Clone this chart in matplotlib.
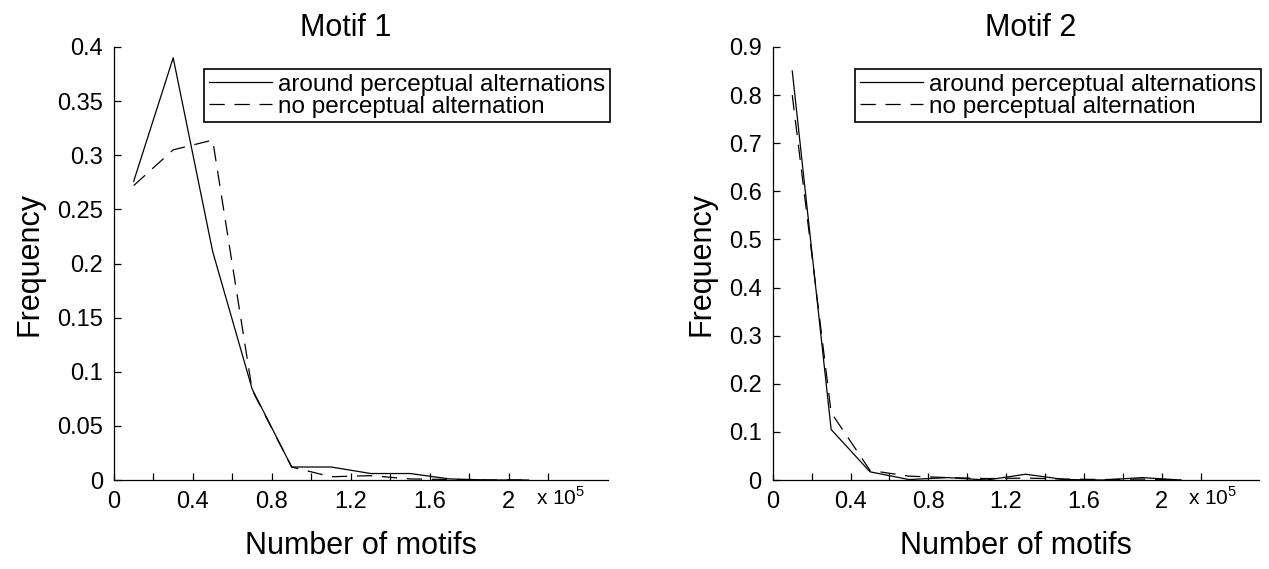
import numpy as np
import matplotlib
matplotlib.use("Agg")
import matplotlib.pyplot as plt

plt.rcParams['font.family'] = ['Liberation Sans', 'DejaVu Sans']
plt.rcParams['mathtext.fontset'] = 'custom'
plt.rcParams['mathtext.rm'] = 'Liberation Sans'
plt.rcParams['lines.scale_dashes'] = False

# bin centres (x 10^5)
bins = [0.1, 0.3, 0.5, 0.7, 0.9, 1.1, 1.3, 1.5, 1.7, 1.9, 2.1]

# Motif 1
m1_around = [0.276, 0.390, 0.211, 0.084, 0.012, 0.012, 0.006, 0.006, 0.001, 0.0, 0.0]
m1_none = [0.272, 0.305, 0.314, 0.083, 0.012, 0.003, 0.004, 0.001, 0.0005, 0.0, 0.0]

# Motif 2
m2_around = [0.850, 0.105, 0.017, 0.001, 0.005, 0.0, 0.012, 0.001, 0.0, 0.005, 0.0]
m2_none = [0.800, 0.140, 0.020, 0.008, 0.005, 0.003, 0.004, 0.002, 0.001, 0.002, 0.0]

titles = ['Motif 1', 'Motif 2']
ylims = [0.4, 0.9]
yticks = [np.round(np.arange(0, 0.401, 0.05), 2), np.round(np.arange(0, 0.901, 0.1), 1)]
xticks = np.round(np.arange(0, 2.21, 0.2), 1)
xticklabels = ['0', '', '0.4', '', '0.8', '', '1.2', '', '1.6', '', '2', '']
labels = ['around perceptual alternations', 'no perceptual alternation']

fig = plt.figure(figsize=(12.69, 5.69), dpi=100)
ax1 = fig.add_axes([0.0898, 0.1564, 0.389, 0.761])
ax2 = fig.add_axes([0.609, 0.1564, 0.383, 0.761])

data = [(m1_around, m1_none), (m2_around, m2_none)]
title_x = [0.47, 0.53]

for i, ax in enumerate([ax1, ax2]):
    around, none = data[i]
    ax.plot(bins, around, color='black', lw=0.9, label=labels[0])
    ax.plot(bins, none, color='black', lw=0.9, ls=(0, (11, 7)), label=labels[1])
    ax.set_xlim(0, 2.5)
    ax.set_ylim(0, ylims[i])
    ax.set_xticks(xticks)
    ax.set_xticklabels(xticklabels)
    ax.set_yticks(yticks[i])
    ax.set_yticklabels([('%g' % v) for v in yticks[i]])
    ax.spines['top'].set_visible(False)
    ax.spines['right'].set_visible(False)
    for s in ['left', 'bottom']:
        ax.spines[s].set_linewidth(0.9)
    ax.tick_params(direction='in', length=5, width=0.9, labelsize=17, pad=8)
    ax.set_title(titles[i], fontsize=22, x=title_x[i], pad=8)
    ax.set_xlabel('Number of motifs', fontsize=22, labelpad=13)
    ax.set_ylabel('Frequency', fontsize=22, labelpad=9)
    ax.text(0.855, -0.015, r'x 10$^{5}$', transform=ax.transAxes, fontsize=15,
            ha='left', va='top')
    leg = ax.legend(loc='upper right', bbox_to_anchor=(1.005, 0.95), fontsize=17.5,
                    frameon=True, fancybox=False, framealpha=1, edgecolor='black',
                    borderpad=0.2, labelspacing=0.0, handlelength=2.6,
                    handletextpad=0.25, borderaxespad=0)
    leg.get_frame().set_linewidth(1.2)

fig.savefig('out.png', dpi=100)
